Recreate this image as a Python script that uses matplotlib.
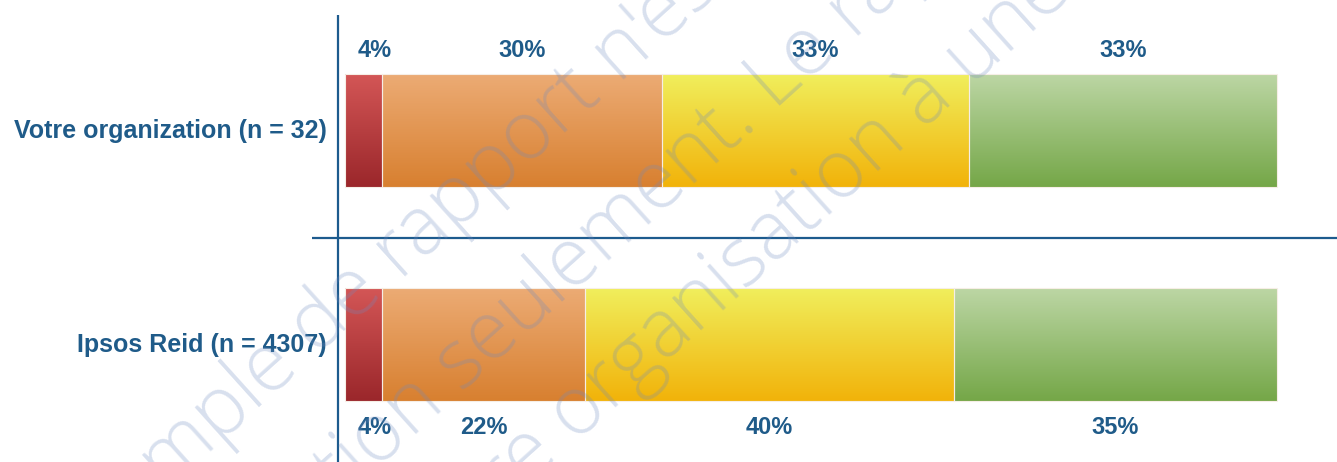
import numpy as np
import matplotlib
matplotlib.use('Agg')
import matplotlib.pyplot as plt
from matplotlib.colors import to_rgb
from matplotlib.patches import Rectangle

# ---------------- data ----------------
groups = ['Votre organization (n = 32)', 'Ipsos Reid (n = 4307)']
values_org = [4, 30, 33, 33]
values_ipsos = [4, 22, 40, 35]
labels_org = ['4%', '30%', '33%', '33%']
labels_ipsos = ['4%', '22%', '40%', '35%']
top_colors = ['#d35656', '#ecab74', '#f0ee5c', '#bcd6a4']
bottom_colors = ['#9b272b', '#d88030', '#f2b30a', '#75a748']
watermark_lines = ["Exemple de rapport n'est fourni",
                   "à titre d'illustration seulement. Le rapport",
                   "de votre organisation à une date"]
watermark_prefix = ["Exemple de ", "à titre d'illustration ", "de votre "]

values = [values_org, values_ipsos]
labels = [labels_org, labels_ipsos]
label_offsets = [-0.376, 0.39]

BLUE = '#1d5b8e'
TXT = '#1f5b89'
FW, FH = 1337, 462

fig = plt.figure(figsize=(13.37, 4.62), dpi=100)
ax = fig.add_axes([0, 0, 1, 1])
ax.axis('off')

bar_h = 0.528


def gradient(c_top, c_bot, n=64):
    t = np.linspace(0, 1, n)[:, None]
    a = np.array(to_rgb(c_top))[None, :]
    b = np.array(to_rgb(c_bot))[None, :]
    return (a * (1 - t) + b * t)[:, None, :]


for yi, (vals, labs) in enumerate(zip(values, labels)):
    total = float(sum(vals))
    left = 0.0
    for k, v in enumerate(vals):
        w = v / total * 100.0
        img = gradient(top_colors[k], bottom_colors[k])
        ax.imshow(img, extent=(left, left + w, yi + bar_h / 2, yi - bar_h / 2),
                  origin='upper', aspect='auto', interpolation='bilinear', zorder=2)
        ax.add_patch(Rectangle((left, yi - bar_h / 2), w, bar_h, fill=False,
                               edgecolor='#f6eee6', lw=0.8, zorder=3))
        x_lab = max(left + w / 2, 3.2)
        ax.text(x_lab, yi + label_offsets[yi], labs[k], ha='center', va='center',
                fontsize=17, fontweight='bold', color=TXT,
                family=['Liberation Sans', 'DejaVu Sans'], zorder=4)
        left += w
    ax.text(-1.93, yi, groups[yi], ha='right', va='center', fontsize=18,
            fontweight='bold', color=TXT,
            family=['Liberation Sans', 'DejaVu Sans'], zorder=4)

ax.set_xlim(-37.02, 106.44)
ax.set_ylim(1.549, -0.61)

# axis lines
ax.plot([-0.75, -0.75], [-0.54, 1.549], color=BLUE, lw=1.6, zorder=5,
        solid_capstyle='butt')
ax.plot([-3.54, 106.44], [0.5, 0.5], color=BLUE, lw=1.6, zorder=5,
        solid_capstyle='butt')

# watermark (anchored so that a given fragment starts at a given pixel)
wm_fs = 58
wm_angle = 42
wm_frag_start = [(400, 280), (462, 392), (575, 443)]
wm_kw = dict(fontsize=wm_fs, family=['Open Sans', 'DejaVu Sans'], fontweight='light')
renderer = fig.canvas.get_renderer()


def text_width(s):
    t = fig.text(0, 0, s, **wm_kw)
    w = t.get_window_extent(renderer=renderer).width
    t.remove()
    return w


th = np.deg2rad(wm_angle)
for s, pre, (px, py) in zip(watermark_lines, watermark_prefix, wm_frag_start):
    frag = s[len(pre):]
    w = text_width(pre + frag) - text_width(frag)
    x0 = px - w * np.cos(th)
    y0 = (FH - py) - w * np.sin(th)
    fig.text(x0 / FW, y0 / FH, s, rotation=wm_angle, rotation_mode='anchor',
             ha='left', va='baseline', color='#6f8bc0', alpha=0.27, zorder=10, **wm_kw)

fig.savefig('out.png', dpi=100)
